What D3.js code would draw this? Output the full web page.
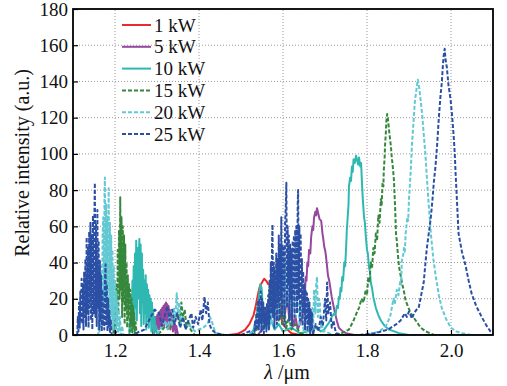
<!DOCTYPE html>
<html>
<head>
<meta charset="utf-8">
<script src="https://cdn.jsdelivr.net/npm/d3@7/dist/d3.min.js"></script>
<style>
  body { margin: 0; background: #fff; }
  text { font-family: "Liberation Serif", "DejaVu Serif", serif; fill: #111; }
</style>
</head>
<body>
<svg id="chart" width="507" height="386"></svg>
<script>
// tick labels
var xTicks = [1.2, 1.4, 1.6, 1.8, 2.0]
var yTicks = [0, 20, 40, 60, 80, 100, 120, 140, 160, 180]

// series names, in legend order
var names = ["1 kW", "5 kW", "10 kW", "15 kW", "20 kW", "25 kW"]

// spectra: [wavelength um, relative intensity]
var kw1 = [[1.10,0],[1.40,0],[1.47,0],[1.49,0.5],[1.50,1.5],[1.51,3],[1.52,6],[1.53,11],[1.535,16],[1.54,22],
  [1.545,27],[1.55,29],[1.555,31],[1.56,30],[1.565,28],[1.57,29],[1.575,27],[1.58,24],[1.585,20],[1.59,15],
  [1.595,10],[1.60,6],[1.61,3],[1.62,1],[1.64,0],[2.10,0]]

var kw5 = [[1.10,0],[1.29,0],[1.2915,5],[1.293,1],[1.2945,8],[1.296,2],[1.2975,10],[1.299,3],[1.3005,11],
  [1.302,4],[1.3035,12],[1.305,3],[1.3065,13],[1.308,5],[1.3095,14],[1.311,4],[1.3125,15],[1.314,6],[1.3155,16],
  [1.317,5],[1.3185,17],[1.320,7],[1.3215,18],[1.323,6],[1.3245,17],[1.326,5],[1.3275,16],[1.329,8],[1.3305,14],
  [1.332,3],[1.3335,12],[1.335,5],[1.3365,10],[1.338,2],[1.3395,8],[1.341,3],[1.3425,6],[1.344,1],[1.346,5],
  [1.35,0],[1.54,0],[1.55,3],[1.56,8],[1.565,4],[1.57,10],[1.58,15],[1.585,8],[1.59,18],[1.595,10],
  [1.60,20],[1.605,12],[1.61,22],[1.615,8],[1.62,15],[1.625,5],[1.63,10],[1.635,3],[1.64,6],[1.646,10],
  [1.650,25],[1.652,22],[1.654,32],[1.656,30],[1.658,40],[1.660,38],[1.662,47],[1.665,45],[1.667,54],
  [1.670,60],[1.672,58],[1.674,65],[1.677,68],[1.679,66],[1.681,70],[1.684,67],[1.687,64],[1.691,63],
  [1.694,56],[1.696,53],[1.698,49],[1.701,46],[1.704,40],[1.707,33],[1.710,30],[1.716,21],[1.722,14],
  [1.728,8],[1.733,4],[1.742,2],[1.75,1],[1.77,0],[2.10,0]]

var kw10 = [[1.10,0],[1.234,0],[1.2355,8],[1.237,2],[1.2385,20],[1.240,5],[1.2415,30],[1.243,10],[1.2445,38],
  [1.246,4],[1.2475,45],[1.249,15],[1.2505,52],[1.252,8],[1.2535,48],[1.255,20],[1.2565,42],[1.258,53],
  [1.2595,12],[1.261,50],[1.2625,5],[1.264,45],[1.2655,18],[1.267,36],[1.2685,6],[1.270,30],[1.2715,12],
  [1.273,33],[1.2745,3],[1.276,28],[1.2775,10],[1.279,25],[1.2805,4],[1.282,22],[1.2835,8],[1.285,20],
  [1.2865,2],[1.288,18],[1.2895,6],[1.291,14],[1.2925,1],[1.294,10],[1.296,2],[1.298,5],[1.30,0],
  [1.52,0],[1.53,3],[1.537,10],[1.542,20],[1.546,28],[1.549,26],[1.552,15],[1.556,8],[1.56,12],
  [1.565,4],[1.572,8],[1.58,3],[1.59,6],[1.60,2],[1.62,4],[1.64,1],[1.66,2],[1.68,4],[1.69,2],[1.698,3],
  [1.704,5],[1.710,7],[1.716,10],[1.722,12],[1.725,11],[1.728,16],[1.731,15],[1.733,21],[1.735,20],
  [1.737,26],[1.739,24],[1.741,32],[1.743,30],[1.746,40],[1.748,38],[1.750,47],[1.752,58],[1.754,65],
  [1.756,72],[1.757,82],[1.760,87],[1.762,85],[1.764,93],[1.766,90],[1.768,97],[1.771,95],[1.774,99],
  [1.777,96],[1.779,94],[1.781,98],[1.784,93],[1.786,95],[1.788,84],[1.790,75],[1.793,65],[1.795,62],
  [1.797,55],[1.800,47],[1.802,45],[1.805,37],[1.807,35],[1.809,29],[1.812,26],[1.815,21],[1.821,15],
  [1.827,11],[1.833,8],[1.842,5],[1.852,3],[1.865,2],[1.876,1],[1.90,0],[2.10,0]]

var kw15 = [[1.10,0],[1.196,0],[1.1975,6],[1.199,1],[1.2005,15],[1.202,3],[1.2035,28],[1.205,8],[1.2065,47],
  [1.208,12],[1.2095,58],[1.211,20],[1.2125,76],[1.214,25],[1.2155,65],[1.217,10],[1.2185,60],[1.220,18],
  [1.2215,55],[1.223,6],[1.2245,50],[1.226,14],[1.2275,40],[1.229,4],[1.2305,33],[1.232,9],[1.2335,28],
  [1.235,2],[1.2365,25],[1.238,6],[1.2395,20],[1.241,1],[1.2425,16],[1.244,4],[1.2455,12],[1.247,0],
  [1.249,7],[1.252,0],[1.30,0],[1.31,2],[1.32,5],[1.33,3],[1.34,8],[1.35,12],[1.355,6],[1.358,18],[1.362,10],
  [1.366,14],[1.37,5],[1.375,8],[1.38,3],[1.39,0],[1.53,0],[1.54,4],[1.548,10],[1.552,3],[1.558,15],
  [1.562,5],[1.567,25],[1.571,8],[1.575,30],[1.579,37],[1.582,12],[1.586,28],[1.59,8],[1.594,20],[1.598,5],
  [1.603,15],[1.608,4],[1.614,10],[1.62,3],[1.63,6],[1.64,1],[1.66,0],[1.72,0],[1.74,1],[1.757,3],[1.768,8],
  [1.775,12],[1.781,15],[1.787,20],[1.792,18],[1.797,25],[1.800,22],[1.803,32],[1.806,29],[1.809,40],
  [1.812,37],[1.815,48],[1.818,45],[1.821,56],[1.824,52],[1.827,66],[1.830,62],[1.833,75],[1.835,72],
  [1.837,84],[1.839,82],[1.840,91],[1.842,98],[1.843,105],[1.845,112],[1.846,118],[1.848,122],[1.850,119],
  [1.853,112],[1.855,108],[1.857,104],[1.859,98],[1.861,94],[1.864,86],[1.867,70],[1.869,56],[1.871,52],
  [1.873,46],[1.876,38],[1.880,33],[1.884,28],[1.888,24],[1.892,19],[1.904,12],[1.916,8],[1.928,4],[1.94,2],
  [1.96,0],[2.10,0]]

var kw20 = [[1.10,0],[1.160,0],[1.1615,8],[1.163,2],[1.1645,20],[1.166,5],[1.1675,38],[1.169,10],[1.1705,55],
  [1.172,65],[1.1735,15],[1.175,78],[1.176,87],[1.1775,20],[1.179,72],[1.1805,8],[1.182,66],[1.1835,25],
  [1.185,81],[1.1865,12],[1.188,62],[1.1895,4],[1.191,55],[1.1925,10],[1.194,47],[1.1955,3],[1.197,38],
  [1.1985,8],[1.200,30],[1.2015,2],[1.203,24],[1.2045,5],[1.206,19],[1.2075,1],[1.209,14],[1.2105,3],
  [1.212,10],[1.214,0],[1.217,5],[1.22,0],[1.30,0],[1.31,4],[1.32,8],[1.325,3],[1.33,10],[1.335,5],[1.34,15],
  [1.343,8],[1.347,23],[1.350,12],[1.353,18],[1.357,6],[1.362,10],[1.368,3],[1.375,6],[1.39,2],[1.41,4],
  [1.42,6],[1.426,10],[1.43,8],[1.435,4],[1.44,1],[1.46,0],[1.52,0],[1.535,3],[1.542,8],[1.548,15],
  [1.552,5],[1.558,12],[1.561,3],[1.564,14],[1.567,4],[1.57,18],[1.573,6],[1.577,22],[1.58,25],[1.582,8],
  [1.585,28],[1.588,30],[1.590,10],[1.593,33],[1.596,36],[1.598,12],[1.601,38],[1.604,40],[1.606,15],
  [1.609,42],[1.611,44],[1.613,18],[1.616,45],[1.618,40],[1.620,12],[1.622,47],[1.624,15],[1.627,40],
  [1.629,35],[1.631,10],[1.634,30],[1.637,25],[1.639,5],[1.642,18],[1.646,12],[1.649,2],[1.652,6],
  [1.656,2],[1.66,4],[1.665,8],[1.668,3],[1.67,15],[1.672,6],[1.674,25],[1.677,12],[1.679,28],[1.681,32],
  [1.683,10],[1.686,20],[1.688,18],[1.690,4],[1.692,8],[1.695,2],[1.70,2],[1.72,0],[1.80,0],[1.83,2],
  [1.845,5],[1.855,10],[1.859,15],[1.863,20],[1.866,17],[1.871,25],[1.875,22],[1.879,30],[1.881,28],
  [1.883,41],[1.886,44],[1.888,48],[1.890,46],[1.892,56],[1.896,65],[1.898,63],[1.900,75],[1.904,90],
  [1.907,105],[1.910,115],[1.914,129],[1.918,136],[1.921,141],[1.924,137],[1.928,129],[1.932,120],
  [1.935,111],[1.939,100],[1.942,89],[1.946,75],[1.952,56],[1.958,42],[1.964,32],[1.971,22],[1.978,15],
  [1.988,9],[2.0,4],[2.012,2],[2.025,1],[2.05,0],[2.10,0]]

var kw25 = [[1.110,0],[1.1115,10],[1.113,2],[1.1145,18],[1.116,4],[1.1175,24],[1.119,8],[1.1205,31],
  [1.122,6],[1.1235,28],[1.125,3],[1.1265,35],[1.128,10],[1.1295,42],[1.131,5],[1.1325,54],[1.134,12],
  [1.1355,48],[1.137,4],[1.1385,57],[1.140,15],[1.1415,62],[1.143,8],[1.1445,55],[1.146,3],[1.1475,66],
  [1.149,12],[1.1505,58],[1.152,84],[1.1535,10],[1.155,62],[1.1565,5],[1.158,69],[1.1595,15],[1.161,52],
  [1.1625,3],[1.164,41],[1.1655,8],[1.167,33],[1.1685,2],[1.170,25],[1.1715,5],[1.173,18],[1.1745,3],
  [1.176,30],[1.1775,39],[1.179,6],[1.1805,28],[1.182,2],[1.1835,20],[1.185,4],[1.1865,14],[1.188,1],
  [1.190,8],[1.192,0],[1.20,2],[1.21,0],[1.24,0],[1.27,3],[1.285,10],[1.295,14],[1.305,12],[1.312,5],
  [1.318,10],[1.325,16],[1.33,8],[1.336,14],[1.342,6],[1.348,12],[1.355,4],[1.362,10],[1.368,3],[1.375,8],
  [1.382,12],[1.386,4],[1.392,10],[1.398,6],[1.404,14],[1.408,8],[1.413,21],[1.417,12],[1.421,18],
  [1.425,6],[1.43,3],[1.44,1],[1.46,0],[1.50,0],[1.52,2],[1.532,0],[1.5335,8],[1.535,2],[1.5365,12],
  [1.538,4],[1.5395,16],[1.541,19],[1.5425,3],[1.544,20],[1.5455,6],[1.547,24],[1.5485,2],[1.550,20],
  [1.5515,8],[1.553,18],[1.5545,1],[1.556,15],[1.5575,5],[1.559,16],[1.5605,2],[1.562,18],[1.5635,6],
  [1.565,22],[1.5665,3],[1.568,30],[1.5695,8],[1.571,40],[1.5725,12],[1.574,52],[1.575,61],[1.5765,10],
  [1.578,40],[1.5795,4],[1.581,35],[1.5825,15],[1.584,45],[1.5855,6],[1.587,42],[1.5885,18],[1.590,55],
  [1.5915,8],[1.593,50],[1.5945,20],[1.596,65],[1.5975,10],[1.599,50],[1.6005,25],[1.602,48],[1.6035,5],
  [1.605,62],[1.6065,70],[1.608,84],[1.6095,15],[1.611,60],[1.6125,28],[1.614,55],[1.6155,8],[1.617,50],
  [1.6185,20],[1.620,48],[1.6215,5],[1.623,52],[1.6245,22],[1.626,55],[1.6275,10],[1.629,58],[1.6305,25],
  [1.632,60],[1.6335,12],[1.635,72],[1.636,80],[1.6375,20],[1.639,60],[1.6405,8],[1.642,56],[1.6435,18],
  [1.645,42],[1.6465,5],[1.648,35],[1.6495,12],[1.651,28],[1.6525,3],[1.654,25],[1.6555,8],[1.657,23],
  [1.6585,2],[1.660,20],[1.6615,6],[1.663,18],[1.6645,1],[1.666,14],[1.6675,3],[1.669,12],[1.671,0],
  [1.678,6],[1.684,2],[1.69,10],[1.695,5],[1.700,20],[1.703,8],[1.705,29],[1.708,12],[1.712,18],[1.716,4],
  [1.72,8],[1.726,1],[1.74,0],[1.78,0],[1.82,1],[1.85,3],[1.87,6],[1.88,8],[1.89,12],[1.895,10],[1.90,13],
  [1.907,9],[1.912,12],[1.918,14],[1.923,15],[1.929,22],[1.935,29],[1.942,47],[1.947,56],[1.952,65],
  [1.956,75],[1.959,84],[1.963,93],[1.967,105],[1.971,120],[1.975,132],[1.978,139],[1.981,150],
  [1.983,155],[1.985,158],[1.987,152],[1.99,148],[1.994,138],[1.999,130],[2.003,120],[2.006,111],
  [2.009,100],[2.011,89],[2.014,75],[2.018,56],[2.026,46],[2.035,38],[2.042,30],[2.049,23],[2.06,16],
  [2.073,10],[2.085,5],[2.094,2],[2.10,1]]

var spectra = [kw1, kw5, kw10, kw15, kw20, kw25]

// line styles
var colors = ["#ec2a2e", "#96489e", "#2fb8b2", "#35873c", "#62c9d3", "#2c4fa6"]
var dashes = [null, null, null, "4,2", "4,2", "4,2"]

var width = 507
var height = 386
var margin = {left: 73, top: 9, right: 14, bottom: 51}

var svg = d3.select("#chart")

var x = d3.scaleLinear().domain([1.1, 2.1]).range([margin.left, width - margin.right])
var y = d3.scaleLinear().domain([0, 180]).range([height - margin.bottom, margin.top])

// dotted grid
var grid = svg.append("g").attr("stroke", "#9a9a9a").attr("stroke-width", 1).attr("stroke-dasharray", "1,2")
grid.selectAll(".gx").data(xTicks).enter().append("line")
  .attr("x1", d => x(d)).attr("x2", d => x(d))
  .attr("y1", y(0)).attr("y2", y(180))
grid.selectAll(".gy").data(yTicks).enter().append("line")
  .attr("x1", x(1.1)).attr("x2", x(2.1))
  .attr("y1", d => y(d)).attr("y2", d => y(d))

svg.append("clipPath").attr("id", "plotclip").append("rect")
  .attr("x", x(1.1)).attr("y", y(180))
  .attr("width", x(2.1) - x(1.1)).attr("height", y(0) - y(180))

var line = d3.line().x(d => x(d[0])).y(d => y(d[1]))

var plot = svg.append("g").attr("clip-path", "url(#plotclip)")
spectra.forEach(function(s, i) {
  plot.append("path")
    .attr("d", line(s))
    .attr("fill", "none")
    .attr("stroke", colors[i])
    .attr("stroke-width", 2)
    .attr("stroke-linejoin", "round")
    .attr("stroke-dasharray", dashes[i])
})

// axes, ticks pointing inwards
var xAxis = svg.append("g").attr("transform", "translate(0," + y(0) + ")")
  .call(d3.axisBottom(x).tickValues(xTicks).tickFormat(d3.format(".1f")).tickSize(-5).tickPadding(9))
var yAxis = svg.append("g").attr("transform", "translate(" + x(1.1) + ",0)")
  .call(d3.axisLeft(y).tickValues(yTicks).tickSize(-5).tickPadding(5))
svg.selectAll(".domain").remove()
svg.selectAll(".tick line").attr("stroke", "#000").attr("stroke-width", 1.2)
svg.selectAll(".tick text").attr("font-size", 19).attr("fill", "#111")
xAxis.attr("font-family", null)
yAxis.attr("font-family", null)

// frame
svg.append("rect")
  .attr("x", x(1.1)).attr("y", y(180))
  .attr("width", x(2.1) - x(1.1)).attr("height", y(0) - y(180))
  .attr("fill", "none").attr("stroke", "#000").attr("stroke-width", 1.8)

// axis titles
svg.append("text")
  .attr("transform", "translate(29," + y(95) + ") rotate(-90)")
  .attr("text-anchor", "middle").attr("font-size", 20)
  .text("Relative intensity (a.u.)")
svg.append("text")
  .attr("x", x(1.6) + 4).attr("y", 379)
  .attr("text-anchor", "middle").attr("font-size", 20)
  .html('<tspan font-style="italic">λ</tspan> /μm')

// legend
var legend = svg.append("g")
names.forEach(function(n, i) {
  var ly = 25 + i * 21.8
  legend.append("line")
    .attr("x1", 122).attr("x2", 151).attr("y1", ly).attr("y2", ly)
    .attr("stroke", colors[i]).attr("stroke-width", 2)
    .attr("stroke-dasharray", dashes[i])
  legend.append("text")
    .attr("x", 154).attr("y", ly).attr("dy", "0.35em")
    .attr("font-size", 19)
    .text(n)
})
</script>
</body>
</html>
